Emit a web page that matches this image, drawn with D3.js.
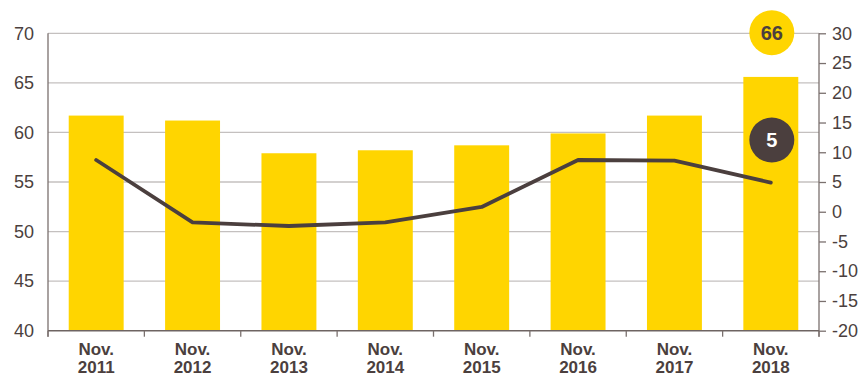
<!DOCTYPE html>
<html><head><meta charset="utf-8">
<script src="https://cdn.jsdelivr.net/npm/d3@7"></script>
<style>
body{margin:0;background:#fff;}
text{font-family:"Liberation Sans",Arial,sans-serif;}
</style></head>
<body><svg id="c" width="861" height="377"></svg>
<script>
const categories = ["Nov. 2011","Nov. 2012","Nov. 2013","Nov. 2014","Nov. 2015","Nov. 2016","Nov. 2017","Nov. 2018"];
const barValues = [61.7, 61.2, 57.9, 58.2, 58.7, 59.9, 61.7, 65.6];
const lineValues = [8.7, -1.8, -2.4, -1.8, 0.8, 8.7, 8.6, 4.9];
const leftTicks = [40,45,50,55,60,65,70];
const rightTicks = [-20,-15,-10,-5,0,5,10,15,20,25,30];
const badgeBar = "66";
const badgeLine = "5";

const svg = d3.select("#c");
const L = 48, R = 819, T = 33.3, B = 330.7;
const x = d3.scaleBand().domain(categories).range([L, R]).paddingInner(0).paddingOuter(0);
const yL = d3.scaleLinear().domain([40,70]).range([B, T]);
const yR = d3.scaleLinear().domain([-20,30]).range([B, T]);
const ink = "#4b3f3e";
const axisCol = "#7a706e";
const FONT = '"Liberation Sans",Arial,sans-serif';

// gridlines
svg.append("g").selectAll("line").data(leftTicks.slice(1)).join("line")
  .attr("x1", L).attr("x2", R).attr("y1", d=>yL(d)).attr("y2", d=>yL(d))
  .attr("stroke", "#c4c0bf").attr("stroke-width", 1.3);

// bars
const bw = x.step()*0.57;
svg.append("g").selectAll("rect").data(barValues).join("rect")
  .attr("x", (d,i)=>x(categories[i]) + (x.step()-bw)/2)
  .attr("width", bw)
  .attr("y", d=>yL(d)).attr("height", d=>B - yL(d))
  .attr("fill", "#FFD500");

// line
svg.append("path").datum(lineValues)
  .attr("d", d3.line().x((d,i)=>x(categories[i]) + x.step()/2).y(d=>yR(d)))
  .attr("fill","none").attr("stroke", ink).attr("stroke-width", 3.8).attr("stroke-linecap","round").attr("stroke-linejoin","round");

// left axis
const gl = svg.append("g").attr("transform", `translate(${L},0)`)
  .call(d3.axisLeft(yL).tickValues(leftTicks).tickSize(0).tickPadding(14));
gl.select(".domain").remove();
gl.append("line").attr("x1",0).attr("x2",0).attr("y1",T).attr("y2",B+6).attr("stroke",axisCol).attr("stroke-width",1.3);
gl.selectAll("text").attr("font-size", 18).attr("fill", ink).attr("font-family", FONT);

// right axis
const gr = svg.append("g").attr("transform", `translate(${R},0)`)
  .call(d3.axisRight(yR).tickValues(rightTicks).tickSize(7).tickPadding(6).tickFormat(d=> String(d)));
gr.select(".domain").remove();
gr.append("line").attr("x1",0).attr("x2",0).attr("y1",T).attr("y2",B+6).attr("stroke",axisCol).attr("stroke-width",1.3);
gr.selectAll(".tick line").attr("stroke",axisCol).attr("stroke-width",1.3);
gr.selectAll("text").attr("font-size", 18).attr("fill", ink).attr("font-family", FONT);

// bottom axis
const gb = svg.append("g").attr("transform", `translate(0,${B})`);
gb.append("line").attr("x1",L).attr("x2",R).attr("y1",0).attr("y2",0).attr("stroke","#6e6462").attr("stroke-width",1.5);
gb.selectAll("line.sep").data(categories).join("line").attr("class","sep")
  .attr("x1", d=>x(d)).attr("x2", d=>x(d)).attr("y1",0).attr("y2",6)
  .attr("stroke",axisCol).attr("stroke-width",1.3);
gb.append("line").attr("x1",R).attr("x2",R).attr("y1",0).attr("y2",6).attr("stroke",axisCol).attr("stroke-width",1.3);
const lab = gb.selectAll("text").data(categories).join("text")
  .attr("x", d=>x(d)+x.step()/2).attr("text-anchor","middle")
  .attr("font-size", 17).attr("font-weight","bold").attr("fill", ink);
lab.append("tspan").attr("x", d=>x(d)+x.step()/2).attr("y", 24.5).text(d=>d.split(" ")[0]);
lab.append("tspan").attr("x", d=>x(d)+x.step()/2).attr("y", 42.5).text(d=>d.split(" ")[1]);

// badges
const lastCat = categories[categories.length-1];
const bx = x(lastCat) + x.step()/2 + 1;
svg.append("circle").attr("cx", bx).attr("cy", 32.7).attr("r", 22.5).attr("fill", "#FFD500");
svg.append("text").attr("x", bx).attr("y", 32.7).attr("dy","0.36em").attr("text-anchor","middle")
  .attr("font-size", 20).attr("font-weight","bold").attr("fill", ink).text(badgeBar);
svg.append("circle").attr("cx", bx).attr("cy", 140).attr("r", 22.5).attr("fill", ink);
svg.append("text").attr("x", bx).attr("y", 140).attr("dy","0.36em").attr("text-anchor","middle")
  .attr("font-size", 20).attr("font-weight","bold").attr("fill", "#fff").text(badgeLine);
</script></body></html>
